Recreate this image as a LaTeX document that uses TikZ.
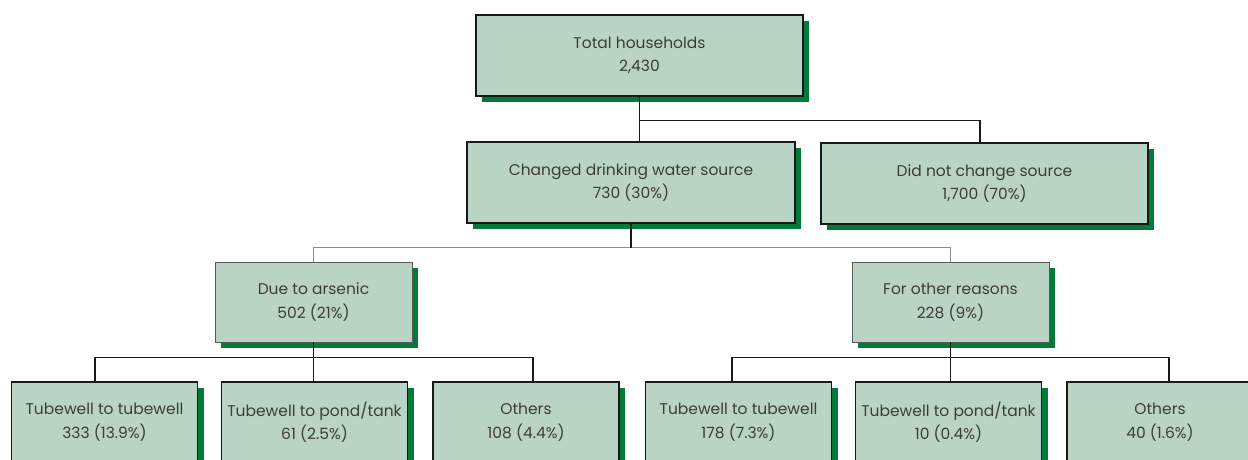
\documentclass[tikz,border=0pt]{standalone}
\usepackage{fontspec}
\setmainfont{Poppins}
\usetikzlibrary{shadows}
\definecolor{boxfill}{HTML}{B9D4C5}
\definecolor{shadowgreen}{HTML}{007B3A}
\definecolor{textgrey}{HTML}{3C3C3C}
\begin{document}
\begin{tikzpicture}[x=1pt, y=-1pt, font=\fontsize{15.5}{23.5}\selectfont, line join=miter,
	box/.style={draw=black!90, line width=1.3pt, fill=boxfill, text=textgrey, align=center, inner sep=0pt,
		minimum height=81pt, drop shadow={shadow xshift=6pt, shadow yshift=-6pt, fill=shadowgreen, opacity=1}},
	midbox/.style={box, draw=black!65, line width=0.9pt, minimum height=80pt},
	lowbox/.style={box, minimum width=186pt, minimum height=80pt},
	thickline/.style={draw=black!90, line width=1.4pt},
	thinline/.style={draw=black!90, line width=0.8pt},
	greyline/.style={draw=black!45, line width=1.1pt}]
	\useasboundingbox (0,0) rectangle (1248,459);
	% top levels
	\node[box, minimum width=327pt] (total) at (639.5,55.5) {Total households\\2,430};
	\node[box, minimum width=328pt] (changed) at (631,182.5) {Changed drinking water source\\730 (30\%)};
	\node[box, minimum width=327pt] (nochange) at (984.5,183.5) {Did not change source\\1,700 (70\%)};
	\node[midbox, minimum width=197pt] (arsenic) at (313.5,302) {Due to arsenic\\502 (21\%)};
	\node[midbox, minimum width=197pt] (other) at (950.5,302) {For other reasons\\228 (9\%)};
	% bottom row
	\foreach \n/\x/\t in {b1/104.5/{Tubewell to tubewell\\333 (13.9\%)}, b2/314.5/{Tubewell to pond/tank\\61 (2.5\%)},
		b3/526/{Others\\108 (4.4\%)}, b4/738.5/{Tubewell to tubewell\\178 (7.3\%)},
		b5/948.5/{Tubewell to pond/tank\\10 (0.4\%)}, b6/1160/{Others\\40 (1.6\%)}}
		\node[lowbox] (\n) at (\x,422) {\t};
	% connectors
	\draw[thickline] (total.south) -- (total.south |- changed.north);
	\draw[thickline] ([yshift=-24pt]total.south) -| ([xshift=-4.5pt]nochange.north);
	\coordinate (split2) at ([yshift=-24pt]changed.south);
	\draw[greyline] (arsenic.north) |- (split2) -| (other.north);
	\draw[thickline] (changed.south) -- (split2);
	\draw[thinline] (arsenic.south) -- (arsenic.south |- b2.north);
	\draw[thickline] ([xshift=-9.5pt]b1.north) |- ([yshift=-15pt]arsenic.south) -| ([xshift=7pt]b3.north);
	\draw[thinline] (other.south) -- (other.south |- b5.north);
	\draw[thickline] ([xshift=-6.5pt]b4.north) |- ([yshift=-15pt]other.south) -| ([xshift=9pt]b6.north);
\end{tikzpicture}
\end{document}
